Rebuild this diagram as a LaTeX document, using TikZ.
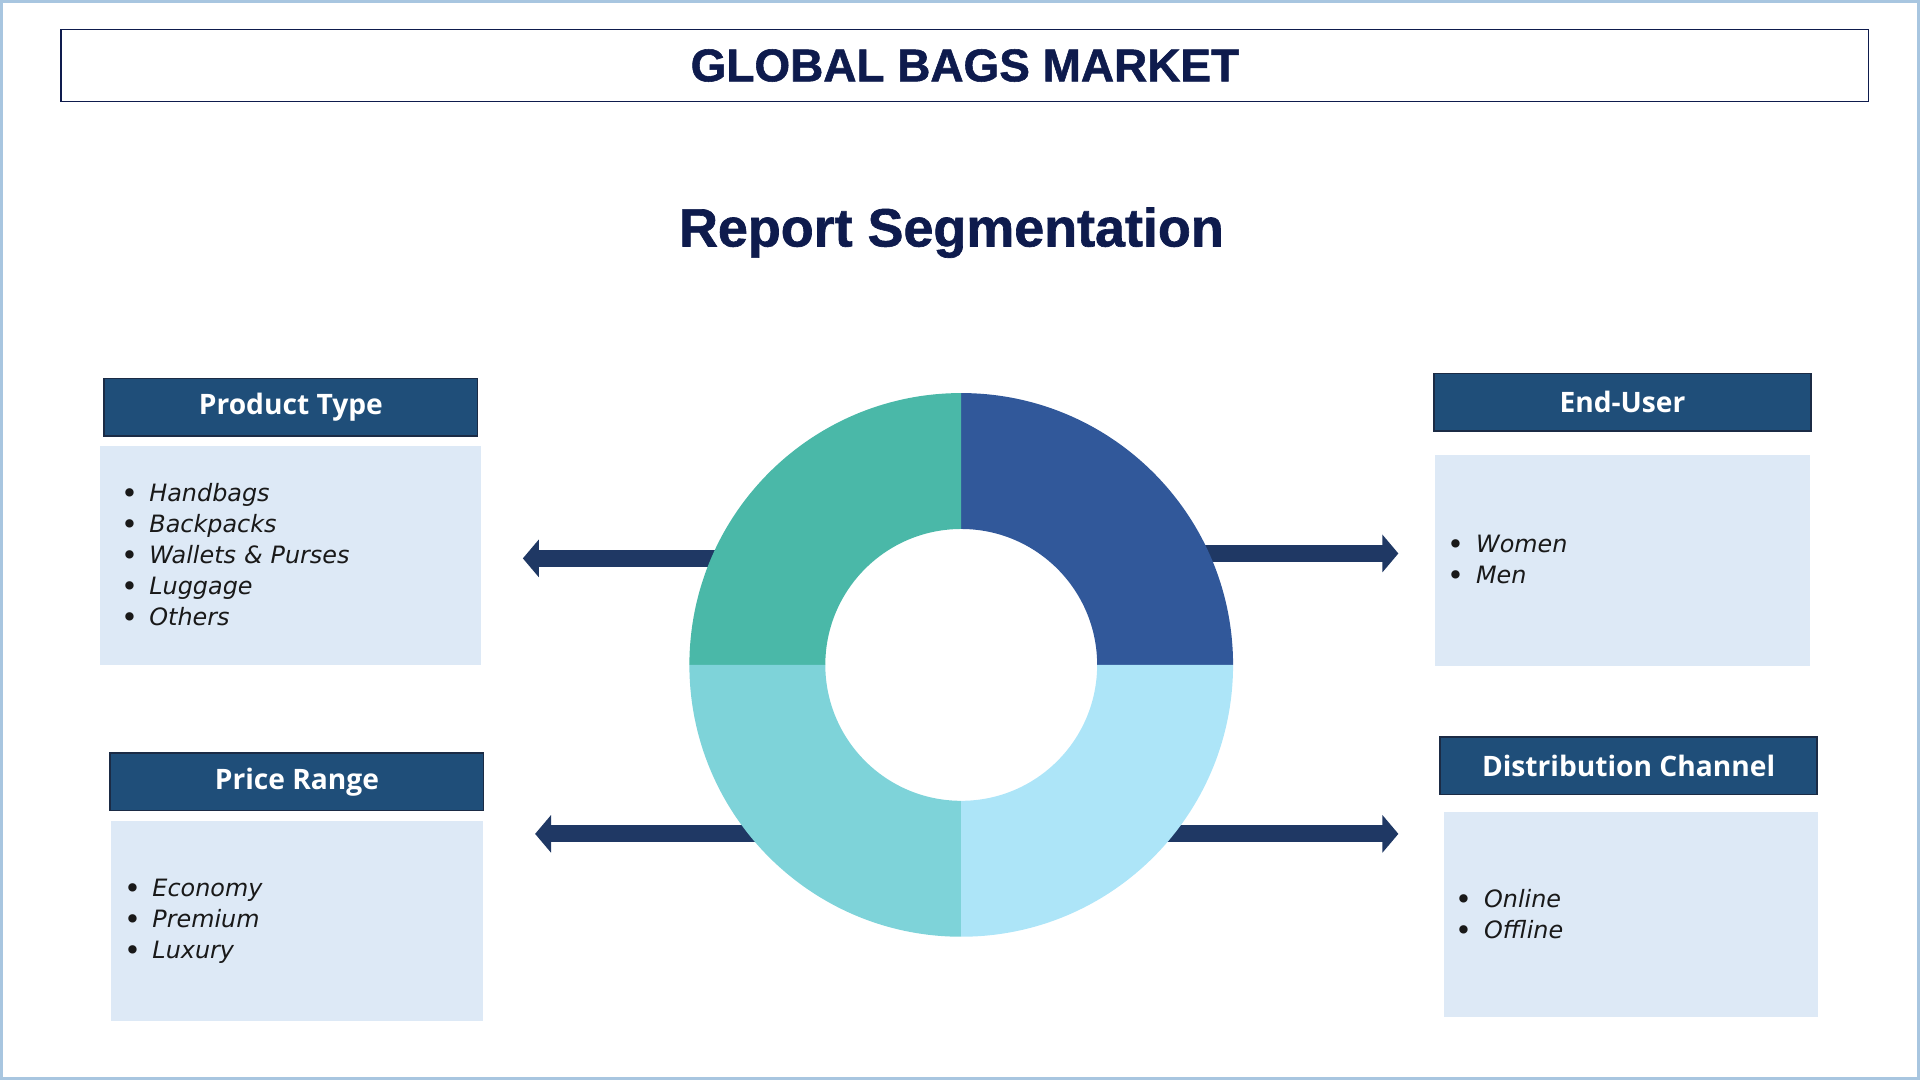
\documentclass[tikz,border=0pt]{standalone}
\usepackage{fontspec}
\setmainfont{Open Sans}
\newfontfamily\headfont{Liberation Sans}[BoldFeatures={FakeBold=1.2}]
\newfontfamily\itemfont{DejaVu Sans}
\usetikzlibrary{arrows.meta, positioning, calc}

\definecolor{navy}{HTML}{0E1B4D}
\definecolor{headbg}{HTML}{1F4E79}
\definecolor{headline}{HTML}{1B2B45}
\definecolor{listbg}{HTML}{DDE9F6}
\definecolor{arrowc}{HTML}{1F3864}
\definecolor{frame}{HTML}{A8C6E0}
\definecolor{segA}{HTML}{31589A}
\definecolor{segB}{HTML}{4AB8A8}
\definecolor{segC}{HTML}{7ED3D9}
\definecolor{segD}{HTML}{ADE5F8}

\newcommand{\bul}{\makebox[23pt][l]{\upshape\raisebox{-0.08em}{\scalebox{1.2}{\textbullet}}}}

\begin{document}
\begin{tikzpicture}[
    x=1pt, y=-1pt,
    titlebox/.style = {rectangle, draw=navy, line width=1.3pt, fill=white,
                       minimum width=1476pt, minimum height=59pt,
                       font=\headfont\bfseries\fontsize{37.5}{40}\selectfont, text=navy},
    head/.style     = {rectangle, draw=headline, line width=1.3pt, fill=headbg,
                       minimum width=305pt, minimum height=47pt,
                       font=\bfseries\fontsize{23}{26}\selectfont, text=white},
    list/.style     = {rectangle, fill=listbg, inner xsep=11pt, text width=284pt,
                       align=left, font=\itemfont\itshape\fontsize{19.5}{25.3}\selectfont, text=black!90},
    bigarrow/.style = {draw=arrowc, line width=14pt,
                       -{Triangle[length=13pt, width=30pt]}}
]
\useasboundingbox (0,0) rectangle (1568,882);
\draw[frame, line width=2.5pt] (1,1) rectangle (1567,881);

% =====================
% Titles
% =====================
\node[titlebox] (title) at (788,53.5) {GLOBAL BAGS MARKET};
\node[font=\headfont\bfseries\fontsize{44}{46}\selectfont, text=navy] (report) at (777,190) {Report Segmentation};

% =====================
% Segment headers and lists
% =====================

% Product type
\node[head] (pt-head) at (237.5,332.5) {Product Type};
\node[list, below=7pt of pt-head, minimum height=179pt, inner xsep=17pt, text width=277pt] (pt-list)
  {\bul Handbags\\ \bul Backpacks\\ \bul Wallets \& Purses\\ \bul Luggage\\ \bul Others};

% Price range
\node[head] (pr-head) at (242.5,638.5) {Price Range};
\node[list, below=8pt of pr-head, minimum height=163pt, text width=282pt] (pr-list)
  {\bul Economy\\ \bul Premium\\ \bul Luxury};

% End-user
\node[head, minimum width=308pt] (eu-head) at (1325,328.5) {End-User};
\node[list, below=19pt of eu-head, minimum height=172pt, text width=285pt] (eu-list)
  {\bul Women\\ \bul Men};

% Distribution channel
\node[head, minimum width=308pt] (dc-head) at (1330,625.5) {Distribution Channel};
\node[list, below=13pt of dc-head, xshift=2pt, minimum height=168pt, inner xsep=10pt, text width=286pt] (dc-list)
  {\bul Online\\ \bul Offline};

% =====================
% Arrows (behind the ring)
% =====================
\coordinate (donut) at (785,543);
\coordinate (pt-tip) at (427,456);
\coordinate (pr-tip) at (437,681);
\coordinate (eu-tip) at (1142,452);
\coordinate (dc-tip) at (1142,681);

\draw[bigarrow] ($(donut |- pt-tip)+(-110,0)$) -- (pt-tip);
\draw[bigarrow] ($(donut |- eu-tip)+(110,0)$) -- (eu-tip);
\draw[bigarrow] (donut |- pr-tip) -- (pr-tip);
\draw[bigarrow] (donut |- dc-tip) -- (dc-tip);

% =====================
% Ring
% =====================
\foreach \a/\c in {270/segA, 180/segB, 90/segC, 0/segD}
  \fill[\c] ($(donut)+(\a:222)$) arc[start angle=\a, delta angle=90, radius=222]
    -- ($(donut)+(\a+90:111)$) arc[start angle=\a+90, delta angle=-90, radius=111] -- cycle;

\end{tikzpicture}
\end{document}
